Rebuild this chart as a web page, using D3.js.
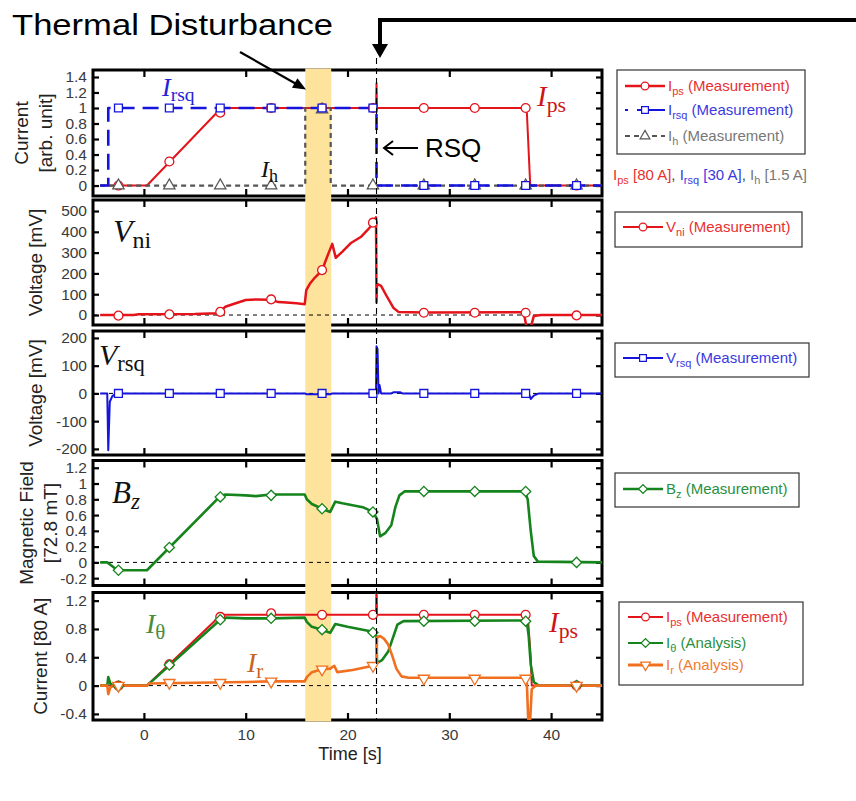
<!DOCTYPE html>
<html>
<head>
<meta charset="utf-8">
<script src="https://cdn.jsdelivr.net/npm/d3@7"></script>
<style>
body { margin: 0; background: #fff; }
svg { display: block; }
</style>
</head>
<body>
<svg id="chart"></svg>
<script>
// ---- data ----
const xTicks = [0, 10, 20, 30, 40]
const markerTimes = [-2.5, 2.5, 7.5, 12.5, 17.5, 22.5, 27.5, 32.5, 37.5, 42.5]
const heaterWindow = [15.85, 18.4]
const rsqTime = 22.85

// panel 1: currents, arb. unit
const ticksNorm = [0, 0.2, 0.4, 0.6, 0.8, 1, 1.2, 1.4]
const ipsNorm = [[-4.3,0],[0.3,0],[7.6,1],[22.8,1],[22.85,1.32],[22.9,1],[37.6,1],[37.95,0],[45,0]]
const irsqNorm = [[-4.3,0],[-3.5,0],[-3.5,1],[22.85,1],[22.85,0],[45,0]]
const ihNorm = [[-4.3,0],[15.85,0],[15.85,1],[18.35,1],[18.35,0],[45,0]]
const ipsNormMarks = [0, 0.31, 0.94, 1, 1, 1, 1, 1, 1, 0]
const irsqNormMarks = [1, 1, 1, 1, 1, 1, 0, 0, 0, 0]
const ihNormMarks = [0, 0, 0, 0, 0.98, 0, 0, 0, 0, 0]

// panel 2: V_ni, mV
const ticksVni = [0, 100, 200, 300, 400, 500]
const vni = [[-4.3,0],[-1,0],[-0.5,4],[5,5],[7.2,8],[7.5,15],[8,40],[8.5,48],[10,72],[11,75],[12.5,74],
  [13.2,62],[14,60],[15,56],[15.8,52],[15.95,120],[16.3,150],[16.8,180],[17.5,215],[18,280],[18.5,342],
  [18.85,275],[19.5,305],[20.3,345],[21.3,375],[22,410],[22.5,440],[22.8,470],[22.85,60],[22.9,150],
  [23.3,140],[23.8,95],[24.5,35],[25,15],[27.5,12],[37.3,13],[37.6,-60],[38,-60],[38.3,-5],[39,0],[45,0]]
const vniMarks = [-3, 3, 15, 75, 216, 444, 11, 11, 11, -2]

// panel 3: V_rsq, mV
const ticksVrsq = [-200, -100, 0, 100, 200]
const vrsq = [[-4.3,0],[-3.6,0],[-3.5,-205],[-3.35,-30],[-3.1,-10],[-2.7,0],[15.8,0],[16,-3],[18.3,-3],
  [18.5,0],[22.8,0],[22.85,170],[22.95,160],[23.05,0],[23.15,30],[23.3,0],[24.3,0],[24.5,4],[25.2,4],
  [25.4,0],[37.8,0],[38,-20],[38.3,-8],[38.8,0],[45,0]]
const vrsqMarks = [0, 0, 0, 0, 0, 0, 0, 0, 0, 0]

// panel 4: B_z, 72.8 mT
const ticksBz = [-0.2, 0, 0.2, 0.4, 0.6, 0.8, 1, 1.2]
const bz = [[-4.3,0],[-3.6,0],[-3.2,-0.04],[-2.6,-0.1],[0.3,-0.1],[7.5,0.84],[8,0.86],[10,0.85],[11,0.84],
  [12.5,0.86],[15.8,0.86],[16,0.8],[16.5,0.74],[17.5,0.68],[18.3,0.64],[18.8,0.77],[19.5,0.75],[21.5,0.7],
  [22.5,0.64],[22.9,0.55],[23.2,0.33],[23.7,0.37],[24.3,0.47],[24.7,0.7],[25.1,0.85],[25.6,0.9],[37.4,0.9],
  [37.7,0.8],[38,0.4],[38.3,0.08],[38.7,0.01],[45,0]]
const bzMarks = [-0.1, 0.19, 0.83, 0.85, 0.68, 0.64, 0.9, 0.9, 0.9, 0]

// panel 5: currents, 80 A
const ticksAmp = [-0.4, 0, 0.4, 0.8, 1.2]
const ipsAmp = [[-4.3,0],[0.3,0],[7.6,1],[22.8,1],[22.85,1.5],[22.9,1],[37.7,1],[38,0.4],[38.1,0],[45,0]]
const ithAmp = [[-4.3,0],[-3.6,0],[-3.5,0.12],[-3.3,0.03],[-3,0],[0.3,0],[7.5,0.93],[8,0.96],[10,0.95],
  [12.5,0.95],[15.8,0.96],[16,0.9],[16.5,0.83],[17.5,0.79],[18.3,0.745],[18.8,0.87],[20,0.83],[22.5,0.76],
  [22.85,0.7],[22.9,0.32],[23.4,0.36],[24,0.48],[24.4,0.65],[24.9,0.86],[25.5,0.91],[37.6,0.92],[37.8,0.7],
  [38,0.3],[38.3,0.05],[38.8,0],[45,0]]
const irAmp = [[-4.3,0],[-3.6,0],[-3.5,-0.12],[-3.3,-0.03],[-3,0],[0.3,0],[0.5,0.03],[5,0.04],[10,0.05],
  [12.5,0.06],[15.8,0.06],[16,0.12],[16.5,0.19],[17.5,0.23],[18.3,0.24],[18.7,0.28],[19,0.19],[20.5,0.22],
  [22.5,0.28],[22.85,0.3],[22.9,0.68],[23.2,0.7],[23.6,0.66],[24,0.58],[24.4,0.42],[24.8,0.24],[25.3,0.13],
  [26,0.11],[37.6,0.11],[37.75,-0.47],[37.95,-0.47],[38.1,-0.05],[38.5,0],[45,0]]
const ipsAmpMarks = [0, 0.3, 0.97, 1.02, 1, 1, 1, 1, 1, 0]
const ithAmpMarks = [-0.01, 0.29, 0.93, 0.95, 0.79, 0.75, 0.91, 0.91, 0.91, 0]
const irAmpMarks = [0, 0.04, 0.04, 0.06, 0.23, 0.28, 0.1, 0.1, 0.1, 0]

// ---- colours ----
const RED = "#e4141b", BLUE = "#1414dc", GRAY = "#555", GREEN = "#15841c", ORANGE = "#f07020"

const W = 856, H = 801
const svg = d3.select("#chart").attr("width", W).attr("height", H)
svg.append("rect").attr("width", W).attr("height", H).attr("fill", "#fff")

const x = d3.scaleLinear().domain([-5, 45]).range([93, 602])
const sans = "'Liberation Sans', Arial, sans-serif"
const serif = "'Liberation Serif', 'Times New Roman', serif"

const panels = [
  { top: 70, bottom: 196, domain: [-0.135, 1.49], ticks: ticksNorm, title: ["Current", "[arb. unit]"], tx: [21, 45], zero: false },
  { top: 200, bottom: 325, domain: [-48, 553], ticks: ticksVni, title: ["Voltage [mV]"], tx: [35], zero: true },
  { top: 331, bottom: 455, domain: [-222, 225], ticks: ticksVrsq, title: ["Voltage [mV]"], tx: [35], zero: true },
  { top: 460.5, bottom: 585.5, domain: [-0.293, 1.292], ticks: ticksBz, title: ["Magnetic Field", "[72.8 mT]"], tx: [26, 50], zero: true },
  { top: 592.5, bottom: 720, domain: [-0.486, 1.315], ticks: ticksAmp, title: ["Current [80 A]"], tx: [40], zero: true }
]
panels.forEach((p, i) => {
  p.y = d3.scaleLinear().domain(p.domain).range([p.bottom, p.top])
  svg.append("clipPath").attr("id", "clip" + i)
    .append("rect").attr("x", 93).attr("y", p.top).attr("width", 509).attr("height", p.bottom - p.top)
})

const fmt = d => String(+d.toFixed(1))

// frames, axes, titles
panels.forEach((p, i) => {
  const g = svg.append("g")
  g.append("g").attr("transform", `translate(93,0)`)
    .call(d3.axisLeft(p.y).tickValues(p.ticks).tickSize(-6).tickPadding(6).tickFormat(fmt))
  g.append("g").attr("transform", `translate(602,0)`)
    .call(d3.axisRight(p.y).tickValues(p.ticks).tickSize(-6).tickFormat(""))
  g.append("g").attr("transform", `translate(0,${p.top})`)
    .call(d3.axisTop(x).tickValues(xTicks).tickSize(-7).tickFormat(""))
  g.append("g").attr("transform", `translate(0,${p.bottom})`)
    .call(d3.axisBottom(x).tickValues(xTicks).tickSize(-7).tickPadding(9)
      .tickFormat(i === panels.length - 1 ? d3.format("d") : ""))
  g.selectAll(".domain").remove()
  g.selectAll(".tick line").attr("stroke", "#000").attr("stroke-width", 2.2)
  g.selectAll("text").attr("font-family", sans).attr("font-size", 15.5).attr("fill", "#3a3a3a")

  g.append("rect").attr("x", 93).attr("y", p.top).attr("width", 509).attr("height", p.bottom - p.top)
    .attr("fill", "none").attr("stroke", "#000").attr("stroke-width", 3)

  const cy = (p.top + p.bottom) / 2
  p.title.forEach((t, k) => {
    svg.append("text").attr("transform", `translate(${p.tx[k]},${cy}) rotate(-90)`)
      .attr("text-anchor", "middle").attr("dominant-baseline", "central")
      .attr("font-family", sans).attr("font-size", 19).attr("fill", "#222").text(t)
  })
})

svg.append("text").attr("x", 350).attr("y", 760).attr("text-anchor", "middle")
  .attr("font-family", sans).attr("font-size", 18).attr("fill", "#222").text("Time [s]")

// thermal disturbance window
svg.append("rect").attr("x", x(heaterWindow[0])).attr("y", 68.5)
  .attr("width", x(heaterWindow[1]) - x(heaterWindow[0])).attr("height", 721.5 - 68.5)
  .attr("fill", "#fde39c")

// zero lines
panels.filter(p => p.zero).forEach(p => {
  svg.append("line").attr("x1", 93).attr("x2", 602).attr("y1", p.y(0)).attr("y2", p.y(0))
    .attr("stroke", "#000").attr("stroke-width", 1).attr("stroke-dasharray", "4,4")
})

// series drawing
function drawLine(pi, data, color, width, dash) {
  const p = panels[pi]
  const line = d3.line().x(d => x(d[0])).y(d => p.y(d[1]))
  svg.append("path").datum(data).attr("d", line).attr("clip-path", `url(#clip${pi})`)
    .attr("fill", "none").attr("stroke", color).attr("stroke-width", width)
    .attr("stroke-linejoin", "round").attr("stroke-dasharray", dash || null)
}
const symbols = {
  circle: { type: d3.symbolCircle, size: 62, rot: 0 },
  square: { type: d3.symbolSquare, size: 62, rot: 0 },
  diamond: { type: d3.symbolSquare, size: 52, rot: 45 },
  triangle: { type: d3.symbolTriangle, size: 55, rot: 0 },
  triangleDown: { type: d3.symbolTriangle, size: 55, rot: 180 }
}
function drawMarks(pi, vals, shape, color) {
  const p = panels[pi], s = symbols[shape]
  svg.append("g").selectAll("path").data(markerTimes.map((t, k) => [t, vals[k]])).join("path")
    .attr("d", d3.symbol().type(s.type).size(s.size))
    .attr("transform", d => `translate(${x(d[0])},${p.y(d[1])}) rotate(${s.rot})`)
    .attr("fill", "#fff").attr("stroke", color).attr("stroke-width", 1.3)
}

drawLine(0, ipsNorm, RED, 2)
drawLine(0, ihNorm, GRAY, 2.2, "5,4")
drawLine(0, irsqNorm, BLUE, 2.6, "16,8")
drawMarks(0, ipsNormMarks, "circle", RED)
drawMarks(0, ihNormMarks, "triangle", GRAY)
drawMarks(0, irsqNormMarks, "square", BLUE)

drawLine(1, vni, RED, 2.5)
drawMarks(1, vniMarks, "circle", RED)

drawLine(2, vrsq, BLUE, 2)
drawMarks(2, vrsqMarks, "square", BLUE)

drawLine(3, bz, GREEN, 2.6)
drawMarks(3, bzMarks, "diamond", GREEN)

drawLine(4, ipsAmp, RED, 2)
drawLine(4, ithAmp, GREEN, 2.6)
drawLine(4, irAmp, ORANGE, 2.6)
drawMarks(4, ipsAmpMarks, "circle", RED)
drawMarks(4, ithAmpMarks, "diamond", GREEN)
drawMarks(4, irAmpMarks, "triangleDown", ORANGE)

// quench time marker
svg.append("line").attr("x1", x(rsqTime)).attr("x2", x(rsqTime)).attr("y1", 58).attr("y2", 720)
  .attr("stroke", "#000").attr("stroke-width", 1.1).attr("stroke-dasharray", "6,4")

// math labels in the panels
function mathLabel(px, py, main, sub, size, color, subItalic) {
  const t = svg.append("text").attr("x", px).attr("y", py).attr("font-family", serif)
    .attr("font-size", size).attr("fill", color)
  t.append("tspan").attr("font-style", "italic").text(main)
  t.append("tspan").attr("dy", size * 0.2).attr("font-size", size * 0.75)
    .attr("font-style", subItalic ? "italic" : "normal").text(sub)
}
mathLabel(162, 96, "I", "rsq", 26, "#2323d6")
mathLabel(261, 177, "I", "h", 24, "#111")
mathLabel(537, 106, "I", "ps", 29, "#cc1616")
mathLabel(113, 242, "V", "ni", 32, "#111")
mathLabel(99, 365, "V", "rsq", 30, "#111")
mathLabel(112, 503, "B", "z", 31, "#111", true)
mathLabel(146, 633, "I", "θ", 28, "#4a8c3c")
mathLabel(247, 672, "I", "r", 28, "#c8651e")
mathLabel(549, 632, "I", "ps", 29, "#cc1616")

// legends
function legend(bx, by, bw, bh, lx0, lx1, entries) {
  svg.append("rect").attr("x", bx).attr("y", by).attr("width", bw).attr("height", bh)
    .attr("fill", "#fff").attr("stroke", "#333").attr("stroke-width", 1.2)
  entries.forEach(e => {
    svg.append("line").attr("x1", lx0).attr("x2", lx1).attr("y1", e.y).attr("y2", e.y)
      .attr("stroke", e.color).attr("stroke-width", e.width).attr("stroke-dasharray", e.dash || null)
    const s = symbols[e.shape]
    svg.append("path").attr("d", d3.symbol().type(s.type).size(s.size * 0.75))
      .attr("transform", `translate(${(lx0 + lx1) / 2},${e.y}) rotate(${s.rot})`)
      .attr("fill", "#fff").attr("stroke", e.color).attr("stroke-width", 1.2)
    const t = svg.append("text").attr("x", lx1 + 3).attr("y", e.y + 5).attr("font-family", sans)
      .attr("font-size", 15).attr("fill", e.text)
    t.append("tspan").text(e.main)
    t.append("tspan").attr("dy", 4).attr("font-size", 11).text(e.sub)
    t.append("tspan").attr("dy", -4).text(" " + e.rest)
  })
}
legend(617, 70, 188, 84, 625, 665, [
  { y: 86, color: RED, width: 2.5, shape: "circle", text: "#e83030", main: "I", sub: "ps", rest: "(Measurement)" },
  { y: 110, color: BLUE, width: 2.2, dash: "3,9,30", shape: "square", text: "#3a3ae0", main: "I", sub: "rsq", rest: "(Measurement)" },
  { y: 136, color: GRAY, width: 2.2, dash: "5,4", shape: "triangle", text: "#777", main: "I", sub: "h", rest: "(Measurement)" }
])
legend(615, 212, 187, 35, 623, 663, [
  { y: 227, color: RED, width: 2, shape: "circle", text: "#e83030", main: "V", sub: "ni", rest: "(Measurement)" }
])
legend(615, 343, 194, 34, 623, 663, [
  { y: 358, color: BLUE, width: 2, shape: "square", text: "#3a3ae0", main: "V", sub: "rsq", rest: "(Measurement)" }
])
legend(615, 473, 184, 34, 623, 663, [
  { y: 489, color: GREEN, width: 2.5, shape: "diamond", text: "#2a9040", main: "B", sub: "z", rest: "(Measurement)" }
])
legend(619, 602, 184, 83, 628, 663, [
  { y: 617, color: RED, width: 2, shape: "circle", text: "#e83030", main: "I", sub: "ps", rest: "(Measurement)" },
  { y: 643, color: GREEN, width: 2, shape: "diamond", text: "#2a9040", main: "I", sub: "θ", rest: "(Analysis)" },
  { y: 665, color: ORANGE, width: 2.8, shape: "triangleDown", text: "#f07a30", main: "I", sub: "r", rest: "(Analysis)" }
])

// scale note under first legend
const note = svg.append("text").attr("x", 613).attr("y", 180).attr("font-family", sans).attr("font-size", 15)
const notePart = (main, sub, rest, color, last) => {
  note.append("tspan").attr("fill", color).text(main)
  note.append("tspan").attr("fill", color).attr("dy", 4).attr("font-size", 11).text(sub)
  note.append("tspan").attr("fill", color).attr("dy", -4).text(rest)
  if (!last) note.append("tspan").attr("fill", "#444").text(", ")
}
notePart("I", "ps", " [80 A]", "#e83030")
notePart("I", "rsq", " [30 A]", "#3a3ae0")
notePart("I", "h", " [1.5 A]", "#777", true)

// annotations
svg.append("text").attr("x", 12).attr("y", 35).attr("font-family", sans).attr("font-size", 30)
  .attr("textLength", 321).attr("lengthAdjust", "spacingAndGlyphs").attr("fill", "#000")
  .text("Thermal Disturbance")

function arrowHead(tipX, tipY, dx, dy, len, half) {
  const n = Math.hypot(dx, dy), ux = dx / n, uy = dy / n
  const bx = tipX - ux * len, by = tipY - uy * len
  return `M${tipX},${tipY}L${bx - uy * half},${by + ux * half}L${bx + uy * half},${by - ux * half}Z`
}
// arrow to the heater window
svg.append("line").attr("x1", 240).attr("y1", 52).attr("x2", 298).attr("y2", 85)
  .attr("stroke", "#000").attr("stroke-width", 2.2)
svg.append("path").attr("d", arrowHead(306, 89.5, 66, 37.5, 13, 5.5)).attr("fill", "#000")

// bracket arrow at the top right
svg.append("path").attr("d", "M856,20H380V46").attr("fill", "none").attr("stroke", "#000").attr("stroke-width", 4)
svg.append("path").attr("d", arrowHead(380, 58, 0, 1, 14, 8)).attr("fill", "#000")

// RSQ arrow
svg.append("line").attr("x1", 418).attr("y1", 148).attr("x2", 385).attr("y2", 148)
  .attr("stroke", "#000").attr("stroke-width", 2)
svg.append("path").attr("d", "M393,141L384,148L393,155").attr("fill", "none").attr("stroke", "#000").attr("stroke-width", 2)
svg.append("text").attr("x", 425).attr("y", 157).attr("font-family", sans).attr("font-size", 26)
  .attr("fill", "#000").text("RSQ")
</script>
</body>
</html>
